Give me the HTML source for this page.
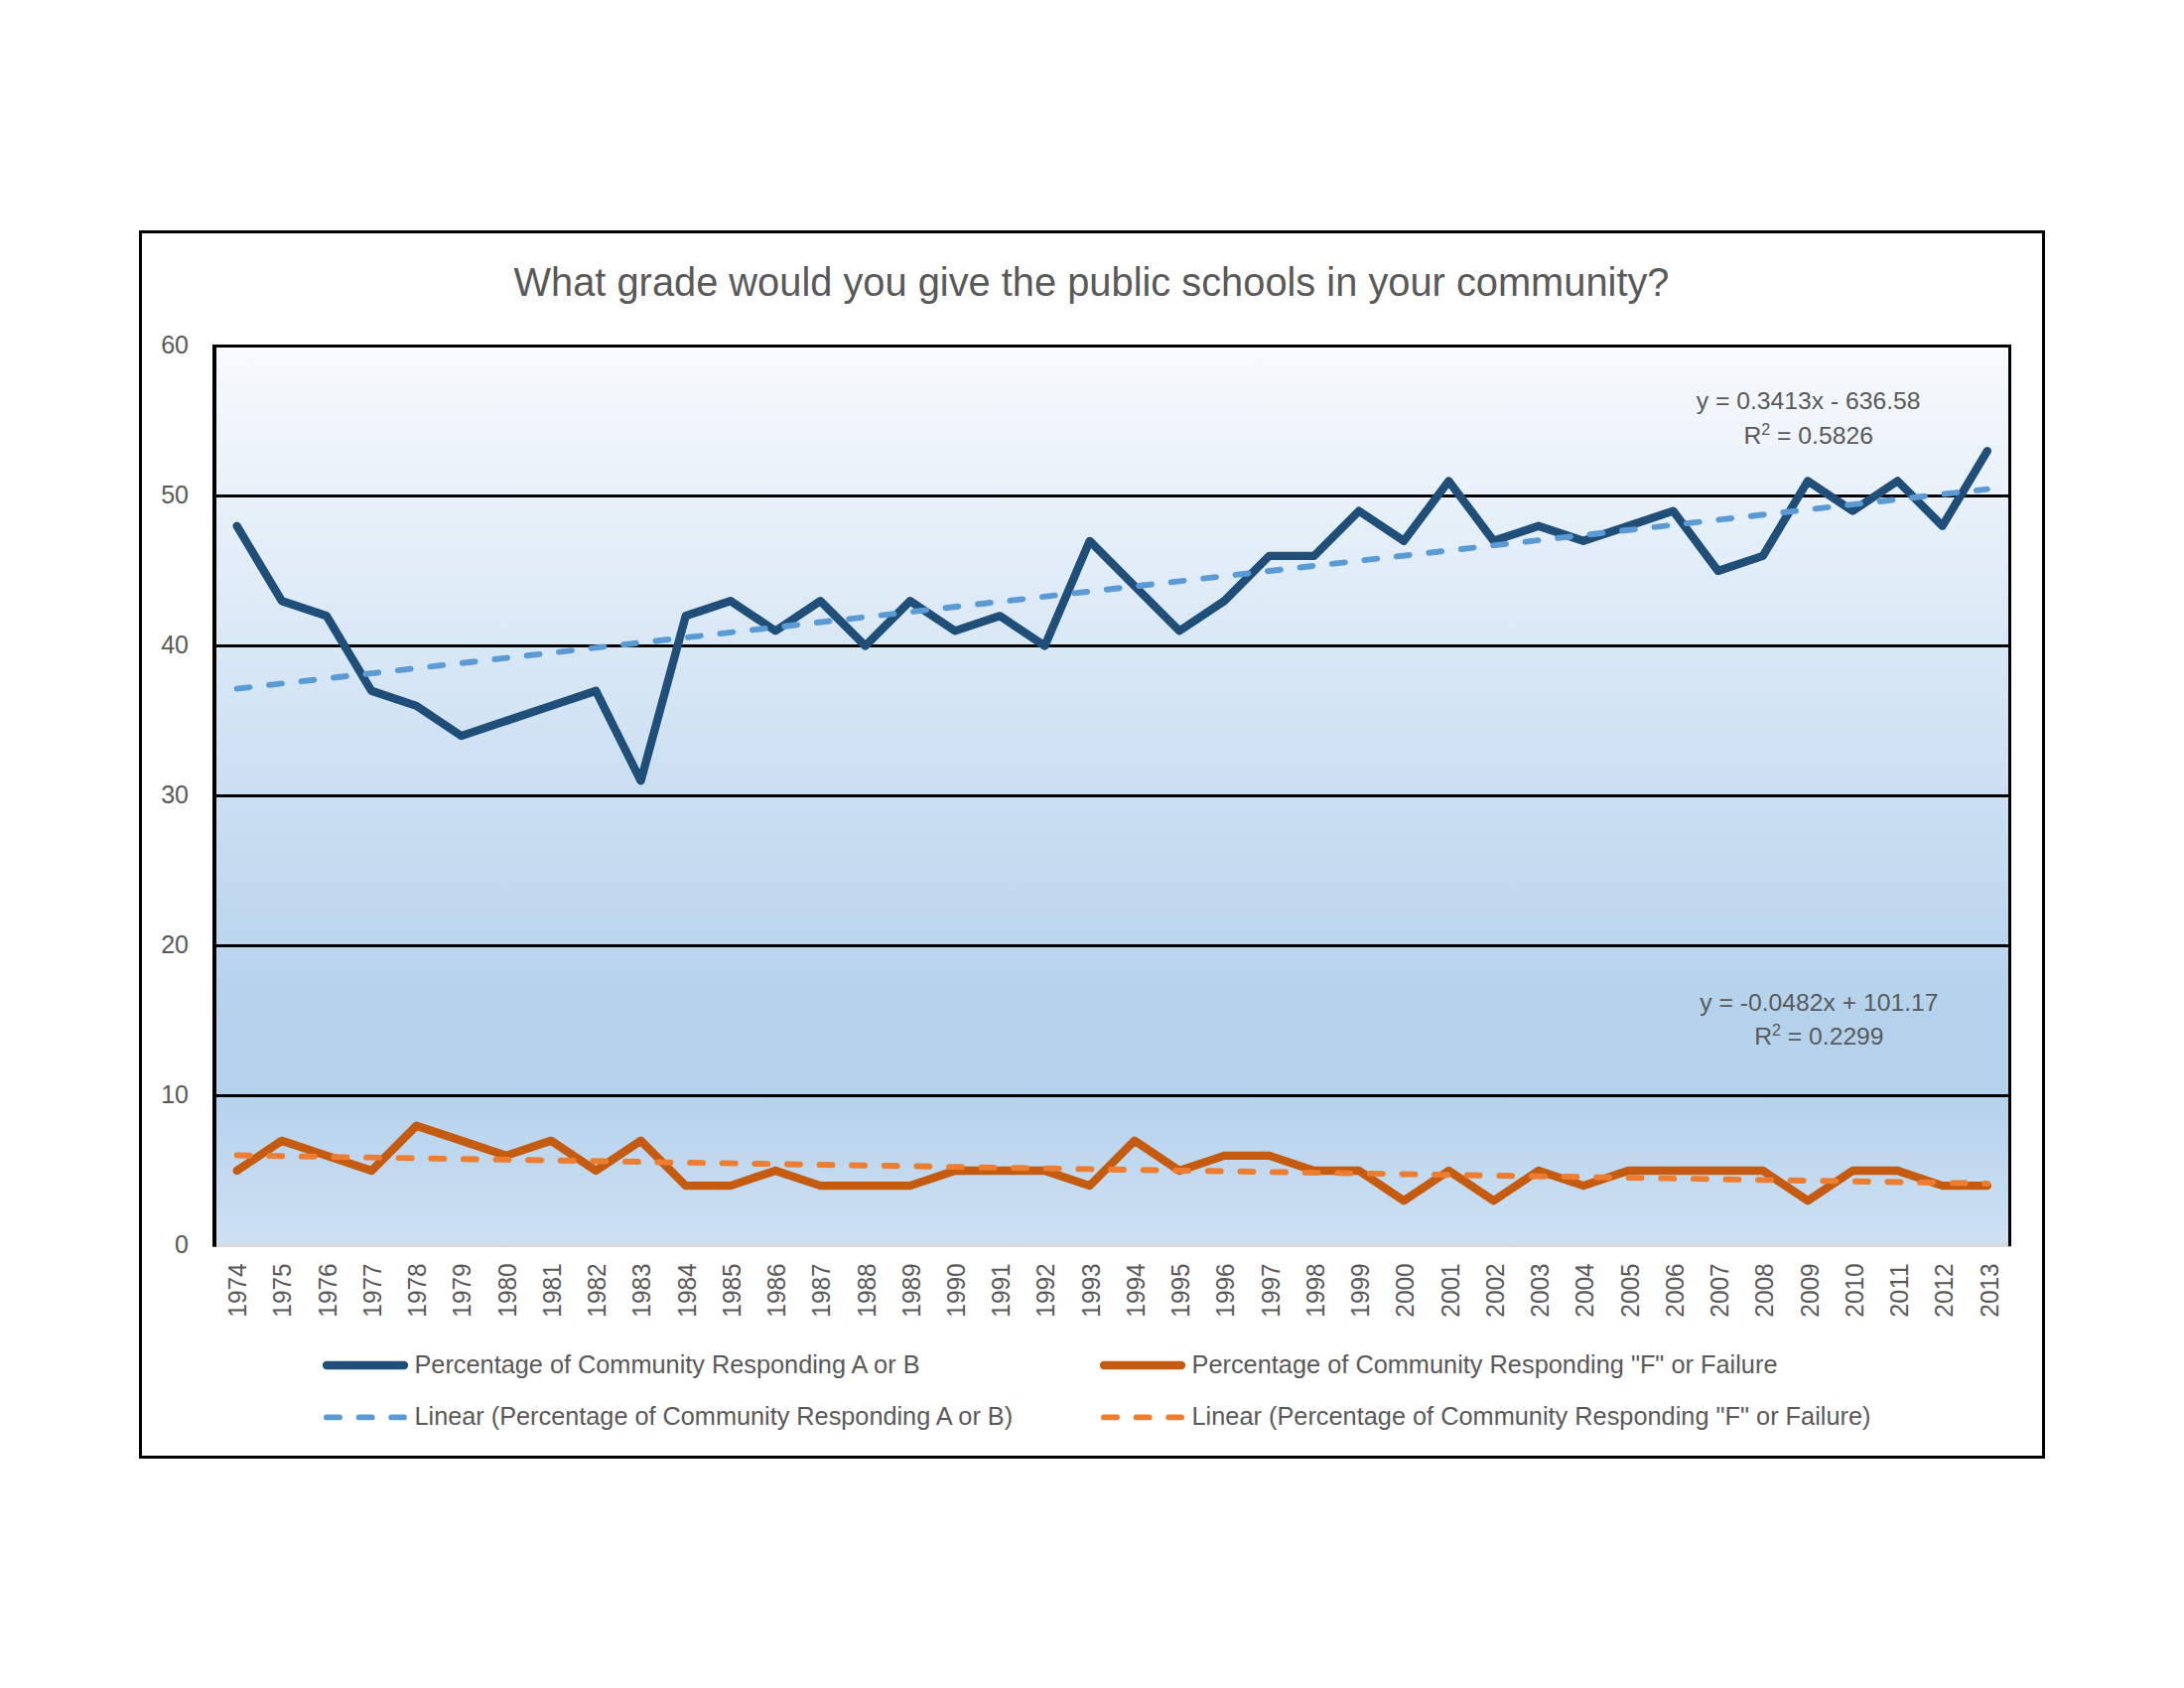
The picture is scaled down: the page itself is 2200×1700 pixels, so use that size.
<!DOCTYPE html>
<html><head><meta charset="utf-8"><title>Chart</title>
<style>html,body{margin:0;padding:0;background:#fff}body{width:2200px;height:1700px;overflow:hidden}svg{display:block}text{font-family:"Liberation Sans",sans-serif;fill:#595959}</style>
</head><body>
<svg width="2200" height="1700" viewBox="0 0 2200 1700">
<defs><linearGradient id="pg" x1="0" y1="0" x2="0" y2="1">
<stop offset="0" stop-color="#F7FAFD"/><stop offset="0.74" stop-color="#B5D2EC"/><stop offset="0.83" stop-color="#B5D2EC"/><stop offset="1" stop-color="#CEE1F2"/>
</linearGradient></defs>
<rect width="2200" height="1700" fill="#fff"/>
<rect x="141.5" y="233.5" width="1917" height="1234" fill="#fff" stroke="#000" stroke-width="3"/>
<rect x="216.0" y="348.5" width="1808.5" height="907.5" fill="url(#pg)"/>
<line x1="216.0" y1="1254.3" x2="2024.5" y2="1254.3" stroke="#D6D9DD" stroke-width="3.4"/>
<line x1="216.0" y1="1103.50" x2="2024.5" y2="1103.50" stroke="#000" stroke-width="3"/>
<line x1="216.0" y1="952.50" x2="2024.5" y2="952.50" stroke="#000" stroke-width="3"/>
<line x1="216.0" y1="801.50" x2="2024.5" y2="801.50" stroke="#000" stroke-width="3"/>
<line x1="216.0" y1="650.50" x2="2024.5" y2="650.50" stroke="#000" stroke-width="3"/>
<line x1="216.0" y1="499.50" x2="2024.5" y2="499.50" stroke="#000" stroke-width="3"/>
<rect x="214" y="347" width="4" height="908.7" fill="#000"/>
<rect x="214" y="347" width="1812" height="3" fill="#000"/>
<rect x="2023" y="347" width="3" height="908.2" fill="#000"/>
<polyline points="238.61,529.70 283.82,605.20 329.03,620.30 374.24,695.80 419.46,710.90 464.67,741.10 509.88,726.00 555.09,710.90 600.31,695.80 645.52,786.40 690.73,620.30 735.94,605.20 781.16,635.40 826.37,605.20 871.58,650.50 916.79,605.20 962.01,635.40 1007.22,620.30 1052.43,650.50 1097.64,544.80 1142.86,590.10 1188.07,635.40 1233.28,605.20 1278.49,559.90 1323.71,559.90 1368.92,514.60 1414.13,544.80 1459.34,484.40 1504.56,544.80 1549.77,529.70 1594.98,544.80 1640.19,529.70 1685.41,514.60 1730.62,575.00 1775.83,559.90 1821.04,484.40 1866.26,514.60 1911.47,484.40 1956.68,529.70 2001.89,454.20" fill="none" stroke="#1F4E79" stroke-width="8.3" stroke-linejoin="round" stroke-linecap="round"/>
<polyline points="238.61,1179.00 283.82,1148.80 329.03,1163.90 374.24,1179.00 419.46,1133.70 464.67,1148.80 509.88,1163.90 555.09,1148.80 600.31,1179.00 645.52,1148.80 690.73,1194.10 735.94,1194.10 781.16,1179.00 826.37,1194.10 871.58,1194.10 916.79,1194.10 962.01,1179.00 1007.22,1179.00 1052.43,1179.00 1097.64,1194.10 1142.86,1148.80 1188.07,1179.00 1233.28,1163.90 1278.49,1163.90 1323.71,1179.00 1368.92,1179.00 1414.13,1209.20 1459.34,1179.00 1504.56,1209.20 1549.77,1179.00 1594.98,1194.10 1640.19,1179.00 1685.41,1179.00 1730.62,1179.00 1775.83,1179.00 1821.04,1209.20 1866.26,1179.00 1911.47,1179.00 1956.68,1194.10 2001.89,1194.10" fill="none" stroke="#C55A11" stroke-width="8.3" stroke-linejoin="round" stroke-linecap="round"/>
<line x1="238.61" y1="693.59" x2="2001.89" y2="492.60" stroke="#5B9BD5" stroke-width="5.9" stroke-dasharray="13 19.66" stroke-linecap="round"/>
<line x1="238.61" y1="1163.55" x2="2001.89" y2="1191.93" stroke="#ED7D31" stroke-width="5.9" stroke-dasharray="13 19.61" stroke-linecap="round"/>
<text x="1099.5" y="297.8" font-size="39.8" text-anchor="middle" textLength="1164" lengthAdjust="spacing">What grade would you give the public schools in your community?</text>
<text x="190" y="1261.9" font-size="25" text-anchor="end">0</text>
<text x="190" y="1110.9" font-size="25" text-anchor="end">10</text>
<text x="190" y="959.9" font-size="25" text-anchor="end">20</text>
<text x="190" y="808.9" font-size="25" text-anchor="end">30</text>
<text x="190" y="657.9" font-size="25" text-anchor="end">40</text>
<text x="190" y="506.9" font-size="25" text-anchor="end">50</text>
<text x="190" y="355.9" font-size="25" text-anchor="end">60</text>
<text transform="translate(248.15,1326.7) rotate(-90)" font-size="25" textLength="54.4" lengthAdjust="spacingAndGlyphs">1974</text>
<text transform="translate(293.39,1326.7) rotate(-90)" font-size="25" textLength="54.4" lengthAdjust="spacingAndGlyphs">1975</text>
<text transform="translate(338.63,1326.7) rotate(-90)" font-size="25" textLength="54.4" lengthAdjust="spacingAndGlyphs">1976</text>
<text transform="translate(383.87,1326.7) rotate(-90)" font-size="25" textLength="54.4" lengthAdjust="spacingAndGlyphs">1977</text>
<text transform="translate(429.11,1326.7) rotate(-90)" font-size="25" textLength="54.4" lengthAdjust="spacingAndGlyphs">1978</text>
<text transform="translate(474.35,1326.7) rotate(-90)" font-size="25" textLength="54.4" lengthAdjust="spacingAndGlyphs">1979</text>
<text transform="translate(519.59,1326.7) rotate(-90)" font-size="25" textLength="54.4" lengthAdjust="spacingAndGlyphs">1980</text>
<text transform="translate(564.83,1326.7) rotate(-90)" font-size="25" textLength="54.4" lengthAdjust="spacingAndGlyphs">1981</text>
<text transform="translate(610.07,1326.7) rotate(-90)" font-size="25" textLength="54.4" lengthAdjust="spacingAndGlyphs">1982</text>
<text transform="translate(655.31,1326.7) rotate(-90)" font-size="25" textLength="54.4" lengthAdjust="spacingAndGlyphs">1983</text>
<text transform="translate(700.55,1326.7) rotate(-90)" font-size="25" textLength="54.4" lengthAdjust="spacingAndGlyphs">1984</text>
<text transform="translate(745.79,1326.7) rotate(-90)" font-size="25" textLength="54.4" lengthAdjust="spacingAndGlyphs">1985</text>
<text transform="translate(791.03,1326.7) rotate(-90)" font-size="25" textLength="54.4" lengthAdjust="spacingAndGlyphs">1986</text>
<text transform="translate(836.27,1326.7) rotate(-90)" font-size="25" textLength="54.4" lengthAdjust="spacingAndGlyphs">1987</text>
<text transform="translate(881.51,1326.7) rotate(-90)" font-size="25" textLength="54.4" lengthAdjust="spacingAndGlyphs">1988</text>
<text transform="translate(926.75,1326.7) rotate(-90)" font-size="25" textLength="54.4" lengthAdjust="spacingAndGlyphs">1989</text>
<text transform="translate(971.99,1326.7) rotate(-90)" font-size="25" textLength="54.4" lengthAdjust="spacingAndGlyphs">1990</text>
<text transform="translate(1017.23,1326.7) rotate(-90)" font-size="25" textLength="54.4" lengthAdjust="spacingAndGlyphs">1991</text>
<text transform="translate(1062.47,1326.7) rotate(-90)" font-size="25" textLength="54.4" lengthAdjust="spacingAndGlyphs">1992</text>
<text transform="translate(1107.71,1326.7) rotate(-90)" font-size="25" textLength="54.4" lengthAdjust="spacingAndGlyphs">1993</text>
<text transform="translate(1152.95,1326.7) rotate(-90)" font-size="25" textLength="54.4" lengthAdjust="spacingAndGlyphs">1994</text>
<text transform="translate(1198.19,1326.7) rotate(-90)" font-size="25" textLength="54.4" lengthAdjust="spacingAndGlyphs">1995</text>
<text transform="translate(1243.43,1326.7) rotate(-90)" font-size="25" textLength="54.4" lengthAdjust="spacingAndGlyphs">1996</text>
<text transform="translate(1288.67,1326.7) rotate(-90)" font-size="25" textLength="54.4" lengthAdjust="spacingAndGlyphs">1997</text>
<text transform="translate(1333.91,1326.7) rotate(-90)" font-size="25" textLength="54.4" lengthAdjust="spacingAndGlyphs">1998</text>
<text transform="translate(1379.15,1326.7) rotate(-90)" font-size="25" textLength="54.4" lengthAdjust="spacingAndGlyphs">1999</text>
<text transform="translate(1424.39,1326.7) rotate(-90)" font-size="25" textLength="54.4" lengthAdjust="spacingAndGlyphs">2000</text>
<text transform="translate(1469.63,1326.7) rotate(-90)" font-size="25" textLength="54.4" lengthAdjust="spacingAndGlyphs">2001</text>
<text transform="translate(1514.87,1326.7) rotate(-90)" font-size="25" textLength="54.4" lengthAdjust="spacingAndGlyphs">2002</text>
<text transform="translate(1560.11,1326.7) rotate(-90)" font-size="25" textLength="54.4" lengthAdjust="spacingAndGlyphs">2003</text>
<text transform="translate(1605.35,1326.7) rotate(-90)" font-size="25" textLength="54.4" lengthAdjust="spacingAndGlyphs">2004</text>
<text transform="translate(1650.59,1326.7) rotate(-90)" font-size="25" textLength="54.4" lengthAdjust="spacingAndGlyphs">2005</text>
<text transform="translate(1695.83,1326.7) rotate(-90)" font-size="25" textLength="54.4" lengthAdjust="spacingAndGlyphs">2006</text>
<text transform="translate(1741.07,1326.7) rotate(-90)" font-size="25" textLength="54.4" lengthAdjust="spacingAndGlyphs">2007</text>
<text transform="translate(1786.31,1326.7) rotate(-90)" font-size="25" textLength="54.4" lengthAdjust="spacingAndGlyphs">2008</text>
<text transform="translate(1831.55,1326.7) rotate(-90)" font-size="25" textLength="54.4" lengthAdjust="spacingAndGlyphs">2009</text>
<text transform="translate(1876.79,1326.7) rotate(-90)" font-size="25" textLength="54.4" lengthAdjust="spacingAndGlyphs">2010</text>
<text transform="translate(1922.03,1326.7) rotate(-90)" font-size="25" textLength="54.4" lengthAdjust="spacingAndGlyphs">2011</text>
<text transform="translate(1967.27,1326.7) rotate(-90)" font-size="25" textLength="54.4" lengthAdjust="spacingAndGlyphs">2012</text>
<text transform="translate(2012.51,1326.7) rotate(-90)" font-size="25" textLength="54.4" lengthAdjust="spacingAndGlyphs">2013</text>
<text x="1821.7" y="411.5" font-size="24.7" text-anchor="middle">y = 0.3413x - 636.58</text>
<text x="1821.7" y="446.6" font-size="24.7" text-anchor="middle">R<tspan font-size="16" dy="-9">2</tspan><tspan dy="9"> = 0.5826</tspan></text>
<text x="1832.4" y="1017.8" font-size="24.7" text-anchor="middle">y = -0.0482x + 101.17</text>
<text x="1832.4" y="1051.6" font-size="24.7" text-anchor="middle">R<tspan font-size="16" dy="-9">2</tspan><tspan dy="9"> = 0.2299</tspan></text>
<line x1="329.0" y1="1375.0" x2="407.0" y2="1375.0" stroke="#1F4E79" stroke-width="8.3" stroke-linecap="round"/>
<text x="417.5" y="1382.7" font-size="25.3" textLength="509.0" lengthAdjust="spacing">Percentage of Community Responding A or B</text>
<line x1="329.0" y1="1427.4" x2="407.0" y2="1427.4" stroke="#5B9BD5" stroke-width="5.9" stroke-dasharray="13 19.66" stroke-linecap="round"/>
<text x="417.5" y="1435.0" font-size="25.3" textLength="602.6" lengthAdjust="spacing">Linear (Percentage of Community Responding A or B)</text>
<line x1="1112.0" y1="1375.0" x2="1190.0" y2="1375.0" stroke="#C55A11" stroke-width="8.3" stroke-linecap="round"/>
<text x="1200.5" y="1382.7" font-size="25.3" textLength="590.0" lengthAdjust="spacing">Percentage of Community Responding "F" or Failure</text>
<line x1="1112.0" y1="1427.4" x2="1190.0" y2="1427.4" stroke="#ED7D31" stroke-width="5.9" stroke-dasharray="13 19.66" stroke-linecap="round"/>
<text x="1200.5" y="1435.0" font-size="25.3" textLength="684.0" lengthAdjust="spacing">Linear (Percentage of Community Responding "F" or Failure)</text>
</svg></body></html>
